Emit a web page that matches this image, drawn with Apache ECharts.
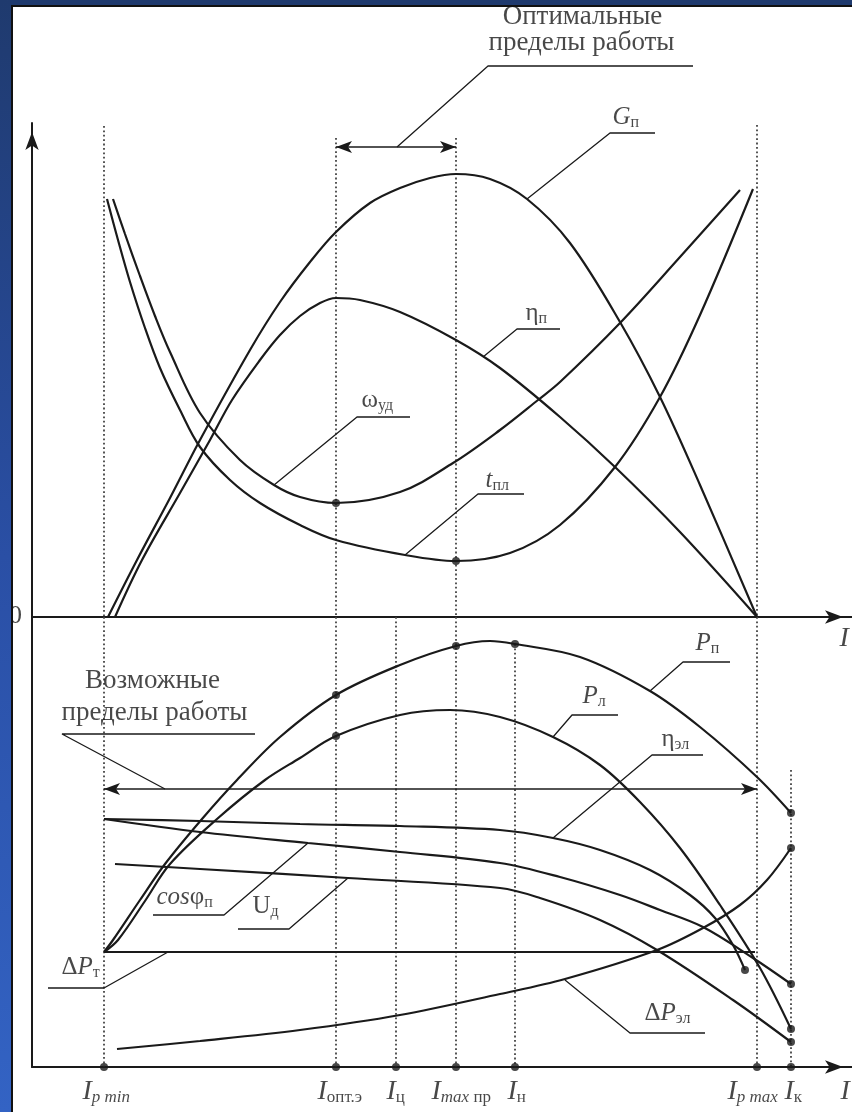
<!DOCTYPE html>
<html>
<head>
<meta charset="utf-8">
<script src="https://cdn.jsdelivr.net/npm/echarts@6/dist/echarts.min.js"></script>
<style>
  html, body { margin: 0; padding: 0; background: #fff; }
  #wrap { position: relative; width: 852px; height: 1112px; overflow: hidden; background: #fff; }
  #chart { position: absolute; left: 0; top: 0; width: 852px; height: 1112px; }
  #topbar { position: absolute; left: 0; top: 0; width: 852px; height: 5px; background: #1f3a6e; }
  #topline { position: absolute; left: 11px; top: 5px; width: 841px; height: 2px; background: #111; }
  #leftbar { position: absolute; left: 0; top: 0; width: 11px; height: 1112px;
             background: linear-gradient(#1f3a6e, #2a4fa5 50%, #3363c4); }
  #leftline { position: absolute; left: 11px; top: 5px; width: 2px; height: 1107px; background: #111; }
</style>
</head>
<body>
<div id="wrap">
  <div id="chart"></div>
  <div id="topbar"></div>
  <div id="leftbar"></div>
  <div id="topline"></div>
  <div id="leftline"></div>
</div>
<script>
// ---------- data (x: current I, y: relative value of each characteristic) ----------

// marked currents on the I axis
const tickX = [7.2, 30.4, 36.4, 42.4, 48.3, 72.5, 75.9];
const tickSubs = ['p min', 'опт.э', 'ц', 'max пр', 'н', 'p max', 'к'];

// upper panel
const gP = [[7.6,0],[10.5,5.7],[13.8,11.9],[16.8,17.7],[21.8,26.7],[24.8,31.5],[27.8,35.5],[30.4,38.5],[33.8,41.4],[36.8,42.9],[39.8,43.9],[42.4,44.3],[45.8,43.8],[49.5,41.8],[53.8,37.4],[58.8,29.5],[62.8,22.0],[66.8,13.2],[72.5,0]];
const etaP = [[8.3,0],[11.0,5.7],[14.8,12.4],[17.8,17.7],[20.0,21.7],[22.8,25.7],[24.8,28.2],[26.8,30.1],[28.8,31.4],[30.4,31.9],[32.8,31.7],[36.8,30.5],[42.4,27.7],[46.8,24.9],[52.8,20.0],[58.3,15.0],[64.8,8.5],[72.5,0]];
const omegaUd = [[8.1,41.8],[9.3,38.3],[10.8,34.1],[12.3,30.1],[13.8,26.5],[16.8,20.4],[20.8,15.7],[24.2,13.2],[26.8,12.0],[30.4,11.4],[36.8,12.5],[42.1,15.4],[46.8,18.7],[50.6,21.7],[52.8,23.5],[58.8,29.4],[64.8,36.0],[70.8,42.7]];
const tPl = [[7.5,41.8],[8.6,37.7],[9.8,33.5],[11.3,28.9],[12.8,24.9],[14.8,20.7],[16.8,17.0],[19.8,13.7],[22.8,11.4],[26.8,9.2],[30.4,7.7],[37.3,6.2],[42.4,5.6],[47.8,6.4],[52.8,9.2],[58.3,15.0],[62.8,22.0],[66.8,30.2],[72.1,42.8]];

// lower panel
const pP = [[7.2,11.5],[8.1,12.7],[10.8,16.7],[13.3,20.3],[17.0,24.8],[20.5,28.7],[24.8,33.0],[30.4,37.2],[36.8,40.2],[42.4,42.1],[45.8,42.6],[48.3,42.3],[54.8,41.0],[61.8,37.6],[66.8,34.0],[72.5,29.0],[75.9,25.4]];
const pL = [[7.2,11.5],[8.6,12.7],[11.3,16.6],[13.8,20.3],[18.5,24.8],[23.3,28.7],[26.8,30.9],[30.4,33.1],[36.8,35.2],[41.8,35.7],[46.8,35.0],[52.1,33.0],[56.8,30.2],[60.8,26.5],[64.8,21.9],[68.8,16.2],[72.8,9.9],[75.9,3.8]];
const etaEl = [[7.2,24.8],[16.8,24.6],[26.8,24.3],[36.8,24.1],[46.8,23.7],[52.1,22.9],[56.8,21.7],[61.8,19.7],[65.8,17.2],[68.3,14.9],[70.1,12.2],[71.3,9.7]];
const cosPhi = [[7.2,24.8],[16.8,23.5],[27.6,22.4],[36.8,21.5],[46.8,20.4],[52.8,19.0],[58.8,17.2],[62.8,15.7],[67.1,14.0],[72.1,10.9],[75.9,8.3]];
const uD = [[8.3,20.3],[16.8,19.8],[31.6,18.9],[46.8,17.9],[50.8,16.9],[56.8,14.7],[62.5,11.7],[70.1,6.7],[75.9,2.5]];
const dPt = [[7.2,11.5],[72.3,11.5]];
const dPel = [[8.5,1.8],[16.8,2.6],[26.8,3.7],[36.8,5.2],[46.8,7.3],[53.3,8.8],[62.5,11.7],[67.1,13.9],[70.8,16.2],[73.5,18.7],[75.9,21.9]];

// ---------- helpers ----------
const serif = '"Liberation Serif", "Times New Roman", serif';
const ink = '#1a1a1a';
const at = (curve, x) => curve.find(p => p[0] === x);
const last = curve => curve[curve.length - 1];
const rt = parts => parts.map(([t, s]) => '{' + s + '|' + t + '}').join('');

const richStyles = {
  m:  { fontFamily: serif, fontSize: 25, lineHeight: 27, color: ink },
  mi: { fontFamily: serif, fontSize: 25, lineHeight: 27, color: ink, fontStyle: 'italic' },
  s:  { fontFamily: serif, fontSize: 16, lineHeight: 10, color: ink, verticalAlign: 'bottom' },
  c:  { fontFamily: serif, fontSize: 27, lineHeight: 30, color: ink },
  z:  { fontFamily: serif, fontSize: 26, lineHeight: 28, color: ink },
  I:  { fontFamily: serif, fontSize: 28, lineHeight: 30, color: ink, fontStyle: 'italic' },
  t:  { fontFamily: serif, fontSize: 17, lineHeight: 10, color: ink, verticalAlign: 'bottom' },
  ti: { fontFamily: serif, fontSize: 17, lineHeight: 10, color: ink, verticalAlign: 'bottom', fontStyle: 'italic' }
};

// subscript of an axis mark: latin words in italics
const tickText = sub => rt([['I', 'I']].concat(sub.split(' ').map((w, i) =>
  [(i ? ' ' : '') + w, /^[a-z]+$/.test(w) ? 'ti' : 't'])));

// ---------- annotation layout ----------
const upperLeaders = [
  [[36.5,47.0],[45.6,55.1],[66.1,55.1]],
  [[49.5,41.8],[57.8,48.4],[62.3,48.4]],
  [[45.1,26.0],[48.5,28.8],[52.8,28.8]],
  [[24.2,13.2],[32.5,20.0],[37.8,20.0]],
  [[37.3,6.2],[44.6,12.3],[49.2,12.3]]
];
const lowerLeaders = [
  [[13.3,27.8],[3.0,33.3],[22.3,33.3]],
  [[61.8,37.6],[65.1,40.5],[69.8,40.5]],
  [[52.1,33.0],[54.0,35.2],[58.6,35.2]],
  [[52.1,22.9],[62.0,31.2],[67.1,31.2]],
  [[27.6,22.4],[19.2,15.2],[12.1,15.2]],
  [[31.6,18.9],[25.7,13.8],[20.6,13.8]],
  [[13.6,11.5],[7.2,7.9],[1.6,7.9]],
  [[53.3,8.7],[59.8,3.4],[67.3,3.4]]
];
const upperLabels = [
  { at: [58.1,49.9], text: [['G','mi'],['п','s']] },
  { at: [49.4,30.3], text: [['η','m'],['п','s']] },
  { at: [33.0,21.6], text: [['ω','m'],['уд','s']] },
  { at: [45.4,13.6], text: [['t','mi'],['пл','s']] },
  { at: [55.1,60.0], text: [['Оптимальные','c']], align: 'center' },
  { at: [55.0,57.4], text: [['пределы работы','c']], align: 'center' },
  { at: [-1.6,0], text: [['0','z']], align: 'center' }
];
const lowerLabels = [
  { at: [66.4,42.3], text: [['P','mi'],['п','s']] },
  { at: [55.1,37.0], text: [['P','mi'],['л','s']] },
  { at: [63.0,32.7], text: [['η','m'],['эл','s']] },
  { at: [12.5,16.9], text: [['cos','mi'],['φ','m'],['п','s']] },
  { at: [22.1,16.0], text: [['U','m'],['д','s']] },
  { at: [3.0,9.9], text: [['Δ','m'],['P','mi'],['т','s']] },
  { at: [61.3,5.3], text: [['Δ','m'],['P','mi'],['эл','s']] },
  { at: [12.1,38.6], text: [['Возможные','c']], align: 'center' },
  { at: [12.3,35.4], text: [['пределы работы','c']], align: 'center' },
  { at: [80.8,42.8], text: [['I','I']] },
  { at: [80.9,-2.5], text: [['I','I']] }
];
const tickLabelDx = [-21, -18, -9, -24, -7, -29, -6];
const upperGuideTop = [49.1, 47.9, null, 47.9, null, 49.2, null];
const lowerGuideTop = [45, 45, 45, 45, at(pP, tickX[4])[1], 45, 29.7];

// ---------- series ----------
const series = [];
const ax = g => ({ xAxisIndex: g, yAxisIndex: g });

function curve(data, g) {
  series.push(Object.assign({ type: 'line', data, smooth: 0.35, symbol: 'none', clip: false, silent: true,
    lineStyle: { color: ink, width: 2.2 }, z: 4 }, ax(g)));
}
function leader(data, g, w) {
  series.push(Object.assign({ type: 'line', data, symbol: 'none', clip: false, silent: true,
    lineStyle: { color: ink, width: w || 1.3 }, z: 3 }, ax(g)));
}
function guide(x, top, g) {
  series.push(Object.assign({ type: 'line', data: [[x, top], [x, 0]], symbol: 'none', clip: false, silent: true,
    lineStyle: { color: '#444', width: 1.8, type: [1.8, 2.6] }, z: 2 }, ax(g)));
}
function dots(data, g) {
  series.push(Object.assign({ type: 'scatter', data, symbolSize: 8, clip: false, silent: true,
    itemStyle: { color: ink }, z: 6 }, ax(g)));
}
function span(a, b, g) {
  series.push(Object.assign({ type: 'line', data: [], symbol: 'none', silent: true,
    markLine: { silent: true, symbol: ['arrow', 'arrow'], symbolSize: [9, 16], label: { show: false },
      lineStyle: { color: ink, width: 1.6, type: 'solid' },
      data: [[{ coord: a }, { coord: b }]] } }, ax(g)));
}
function labels(list, g, dy) {
  series.push(Object.assign({ type: 'scatter', symbolSize: 1, clip: false, silent: true,
    itemStyle: { color: 'rgba(0,0,0,0)' }, z: 7,
    label: { show: true, formatter: p => p.data.txt, rich: richStyles },
    data: list.map(l => ({ value: l.at, txt: l.txt || rt(l.text),
      label: { position: [l.dx || 0, dy || 0], align: l.align || 'left', verticalAlign: 'middle' } }))
  }, ax(g)));
}

// vertical guides through the marked currents
tickX.forEach((x, i) => {
  if (upperGuideTop[i] != null) guide(x, upperGuideTop[i], 0);
  guide(x, lowerGuideTop[i], 1);
});

[gP, etaP, omegaUd, tPl].forEach(c => curve(c, 0));
[pP, pL, etaEl, cosPhi, uD, dPel].forEach(c => curve(c, 1));
leader(dPt, 1, 2.2);

upperLeaders.forEach(l => leader(l, 0));
lowerLeaders.forEach(l => leader(l, 1));

span([tickX[1], 47.0], [tickX[3], 47.0], 0);
span([tickX[0], 27.8], [tickX[5], 27.8], 1);

dots([at(omegaUd, tickX[1]), at(tPl, tickX[3])], 0);
dots([at(pP, tickX[1]), at(pP, tickX[3]), at(pP, tickX[4]), at(pL, tickX[1]),
      last(pP), last(pL), last(etaEl), last(cosPhi), last(uD), last(dPel)], 1);
dots(tickX.map(x => [x, 0]), 1);

labels(upperLabels, 0);
labels(lowerLabels, 1);
labels(tickX.map((x, i) => ({ at: [x, 0], txt: tickText(tickSubs[i]), dx: tickLabelDx[i] })), 1, 25);

// ---------- axes ----------
const axisLine = (arrow) => ({
  show: true, onZero: false,
  symbol: arrow ? ['none', 'arrow'] : ['none', 'none'],
  symbolSize: [10, 18], symbolOffset: [0, -9],
  lineStyle: { color: ink, width: 2 }
});
const hidden = { axisTick: { show: false }, axisLabel: { show: false }, splitLine: { show: false } };

const chart = echarts.init(document.getElementById('chart'), null, { renderer: 'canvas' });
chart.setOption({
  animation: false,
  backgroundColor: 'transparent',
  grid: [
    { left: 32, top: 123, width: 820, height: 494 },
    { left: 32, top: 617, width: 820, height: 450 }
  ],
  xAxis: [
    Object.assign({ type: 'value', gridIndex: 0, min: 0, max: 82, axisLine: axisLine(true) }, hidden),
    Object.assign({ type: 'value', gridIndex: 1, min: 0, max: 82, axisLine: axisLine(true) }, hidden)
  ],
  yAxis: [
    Object.assign({ type: 'value', gridIndex: 0, min: 0, max: 49.4, axisLine: axisLine(true) }, hidden),
    Object.assign({ type: 'value', gridIndex: 1, min: 0, max: 45, axisLine: axisLine(false) }, hidden)
  ],
  series
});
</script>
</body>
</html>
